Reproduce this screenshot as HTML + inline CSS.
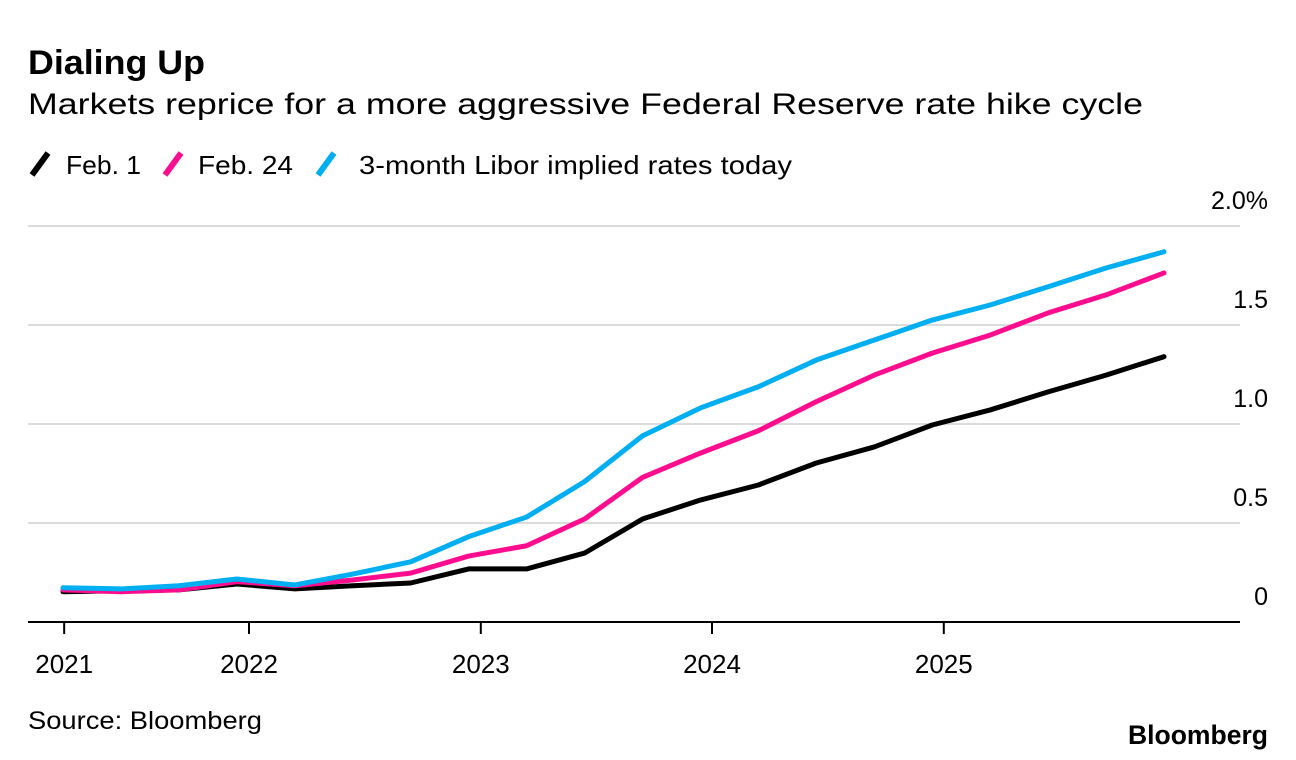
<!DOCTYPE html>
<html><head><meta charset="utf-8"><style>
body{margin:0;background:#fff;}
svg{display:block;font-family:"Liberation Sans",sans-serif;}
</style></head><body>
<svg id="chart" width="1296" height="760" viewBox="0 0 1296 760">
<text x="28" y="74" font-size="34" font-weight="bold" textLength="177" lengthAdjust="spacingAndGlyphs">Dialing Up</text>
<text x="28" y="114" font-size="30" textLength="1115" lengthAdjust="spacingAndGlyphs">Markets reprice for a more aggressive Federal Reserve rate hike cycle</text>
<g>
<line x1="32" y1="175" x2="48" y2="153" stroke="#000" stroke-width="6"/>
<text x="66" y="174" font-size="26" textLength="75" lengthAdjust="spacingAndGlyphs">Feb. 1</text>
<line x1="165" y1="175" x2="181" y2="153" stroke="#ff0d8e" stroke-width="6"/>
<text x="198" y="174" font-size="26" textLength="95" lengthAdjust="spacingAndGlyphs">Feb. 24</text>
<line x1="318" y1="175" x2="334" y2="153" stroke="#00aef2" stroke-width="6"/>
<text x="359" y="174" font-size="26" textLength="433" lengthAdjust="spacingAndGlyphs">3-month Libor implied rates today</text>
</g>
<g id="grid"></g>
<g id="lines"></g>
<g id="xaxis"></g>
<text x="28" y="729" font-size="25" textLength="234" lengthAdjust="spacingAndGlyphs">Source: Bloomberg</text>
<text x="1268" y="744" font-size="27" font-weight="bold" text-anchor="end" textLength="140" lengthAdjust="spacingAndGlyphs">Bloomberg</text>
</svg>
<script>
const feb1 = [0.153,0.158,0.162,0.192,0.167,0.183,0.197,0.268,0.268,0.348,0.52,0.616,0.692,0.803,0.884,0.995,1.071,1.162,1.247,1.34];
const feb24 = [0.162,0.153,0.162,0.204,0.183,0.212,0.247,0.333,0.385,0.52,0.73,0.853,0.966,1.113,1.247,1.358,1.449,1.561,1.652,1.763];
const today = [0.173,0.167,0.183,0.217,0.187,0.242,0.304,0.431,0.53,0.709,0.94,1.081,1.188,1.323,1.424,1.525,1.601,1.693,1.788,1.87];
const yTicks = [0,0.5,1.0,1.5,2.0];
const yTickLabels = ["0","0.5","1.0","1.5","2.0%"];
const xTickIdx = [0.02,3.21,7.21,11.2,15.2];
const xTickLabels = ["2021","2022","2023","2024","2025"];

const NS="http://www.w3.org/2000/svg";
const X0=63, X1=1164, N=feb1.length;
const xs = i => X0 + (X1-X0)*i/(N-1);
const ys = v => 622 - v*198;
function mk(tag, attrs, parent){const e=document.createElementNS(NS,tag);for(const k in attrs)e.setAttribute(k,attrs[k]);parent.appendChild(e);return e;}
const grid=document.getElementById('grid'), lines=document.getElementById('lines'), xa=document.getElementById('xaxis');
yTicks.forEach((v,i)=>{
  if(v>0){const l=mk('line',{x1:28,x2:1240,y1:ys(v),y2:ys(v),stroke:'#dcdcdc','stroke-width':2},grid);
  
  }
  const t=mk('text',{x:1268,y:ys(v)-17,'font-size':25,'text-anchor':'end'},grid);
  t.textContent=yTickLabels[i];
  
  
});
[[feb1,'#000','line-feb1'],[feb24,'#ff0d8e','line-feb24'],[today,'#00aef2','line-today']].forEach(([d,c,n])=>{
  const p=mk('polyline',{points:d.map((v,i)=>xs(i)+','+ys(v)).join(' '),fill:'none',stroke:c,'stroke-width':5,'stroke-linejoin':'round','stroke-linecap':'round'},lines);
  
  
});
const ax=mk('line',{x1:28,x2:1240,y1:622,y2:622,stroke:'#000','stroke-width':2},xa);


xTickIdx.forEach((ix,i)=>{
  const x=xs(ix);
  const tk=mk('line',{x1:x,x2:x,y1:622,y2:634,stroke:'#000','stroke-width':2},xa);
  
  
  const t=mk('text',{x:x,y:673,'font-size':26,'text-anchor':'middle'},xa);
  t.textContent=xTickLabels[i];
  
  
});
</script>
</body></html>
